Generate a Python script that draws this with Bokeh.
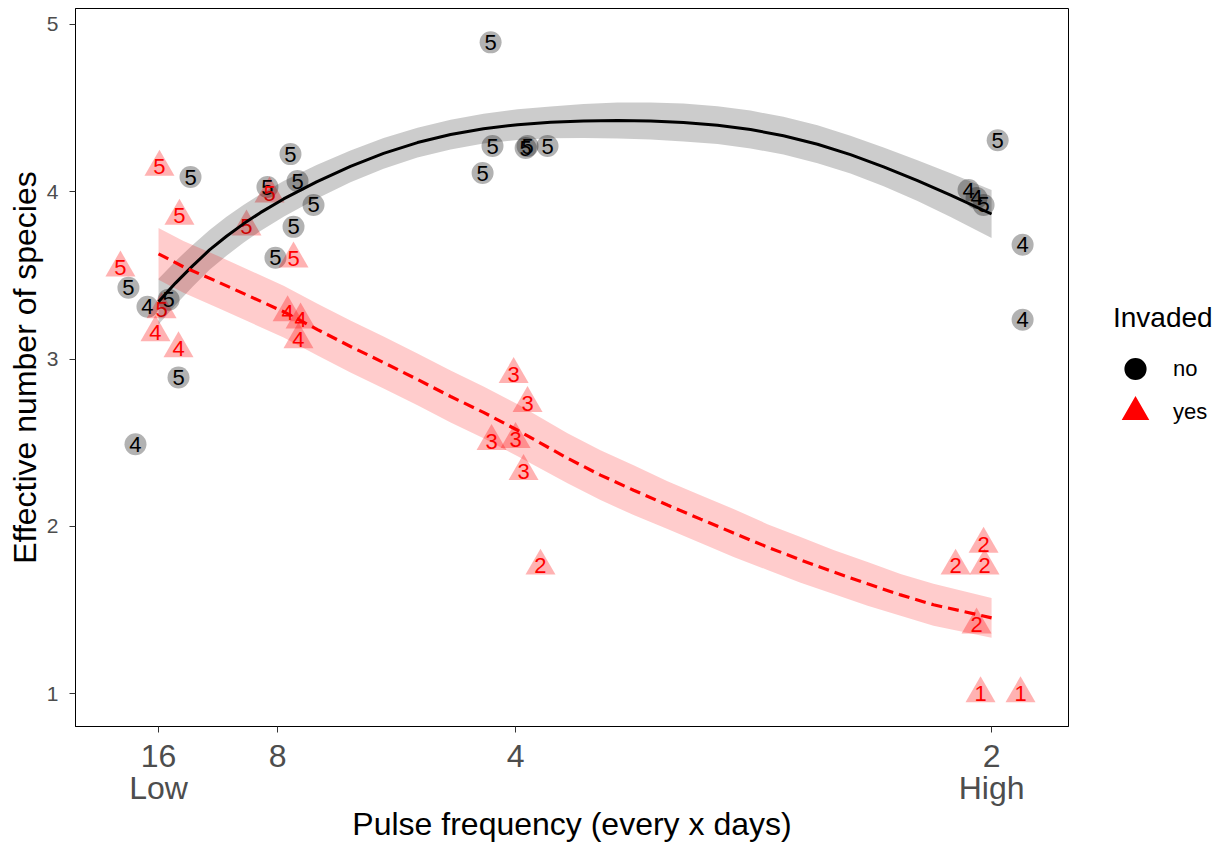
from bokeh.plotting import figure
from bokeh.layouts import row
from bokeh.models import (ColumnDataSource, FixedTicker, LinearAxis, Range1d,
                          Legend, LegendItem)
from bokeh.embed import file_html
from bokeh.resources import INLINE
from bokeh.core.properties import value

FONT = value("Liberation Sans")

# ---- data: not invaded (circles) ----
no_freq = [0.2369, 0.2379, 0.2327, 0.2553, 0.2563, 0.2668, 0.0793, 0.1318,
           0.1197, 0.1355, 0.1439, 0.1334, 0.1239, 0.0467, 0.0567, 0.0678,
           0.0730, 0.0504, 0.4879, 0.4921, 0.4958, 0.5032, 0.5163, 0.5163]
no_eff = [4.893, 4.273, 4.112, 4.261, 4.273, 4.273, 4.088, 4.225,
          4.028, 4.064, 3.921, 3.790, 3.605, 3.426, 3.313, 3.355,
          2.890, 2.490, 4.010, 3.963, 3.921, 4.308, 3.683, 3.235]
no_lab = ["5", "5", "5", "5", "5", "5", "5", "5",
          "5", "5", "5", "5", "5", "5", "4", "5",
          "5", "4", "4", "4", "5", "5", "4", "4"]

# ---- data: invaded (triangles) ----
yes_freq = [0.0630, 0.0735, 0.0425, 0.1087, 0.1208, 0.1334, 0.0641, 0.0609,
            0.0730, 0.1303, 0.1371, 0.1360, 0.2490, 0.2563, 0.2374, 0.2500,
            0.2542, 0.2631, 0.4958, 0.4811, 0.4963, 0.4921, 0.4942, 0.5152]
yes_eff = [4.148, 3.855, 3.545, 3.790, 3.987, 3.599, 3.295, 3.158,
           3.063, 3.277, 3.235, 3.116, 2.908, 2.735, 2.508, 2.520,
           2.329, 1.763, 1.894, 1.763, 1.763, 1.411, 1.000, 1.000]
yes_lab = ["5", "5", "5", "5", "5", "5", "5", "4",
           "4", "4", "4", "4", "3", "3", "3", "3",
           "3", "2", "2", "2", "2", "2", "1", "1"]

# ---- fitted curves with confidence bands ----
fit_no_x = [0.0625, 0.0714, 0.0804, 0.0893, 0.0982, 0.1071, 0.1160, 0.1282,
            0.1455, 0.1633, 0.1807, 0.1985, 0.2159, 0.2332, 0.2511, 0.2684,
            0.2857, 0.3036, 0.3209, 0.3382, 0.3561, 0.3734, 0.3907, 0.4086,
            0.4259, 0.4433, 0.4611, 0.4785, 0.5000]
fit_no_y = [3.343, 3.454, 3.557, 3.652, 3.734, 3.808, 3.875, 3.957,
            4.059, 4.152, 4.229, 4.294, 4.342, 4.377, 4.401, 4.415,
            4.423, 4.426, 4.423, 4.414, 4.398, 4.372, 4.335, 4.284,
            4.222, 4.149, 4.066, 3.980, 3.867]
fit_no_lo = [3.206, 3.323, 3.432, 3.533, 3.618, 3.695, 3.765, 3.850,
             3.958, 4.057, 4.137, 4.205, 4.253, 4.288, 4.309, 4.320,
             4.322, 4.319, 4.313, 4.301, 4.285, 4.259, 4.222, 4.171,
             4.109, 4.033, 3.944, 3.849, 3.724]
fit_no_hi = [3.480, 3.585, 3.682, 3.771, 3.850, 3.921, 3.985, 4.064,
             4.160, 4.247, 4.321, 4.383, 4.431, 4.466, 4.493, 4.510,
             4.524, 4.533, 4.533, 4.527, 4.511, 4.485, 4.448, 4.397,
             4.335, 4.265, 4.188, 4.111, 4.010]

fit_yes_x = [0.0625, 0.0756, 0.0935, 0.1108, 0.1282, 0.1460, 0.1633, 0.1807,
             0.1985, 0.2159, 0.2332, 0.2511, 0.2773, 0.2946, 0.3120, 0.3298,
             0.3472, 0.3645, 0.3823, 0.3997, 0.4170, 0.4349, 0.4522, 0.4695,
             0.5000]
fit_yes_y = [3.629, 3.551, 3.462, 3.373, 3.283, 3.176, 3.075, 2.979,
             2.878, 2.776, 2.681, 2.574, 2.407, 2.306, 2.216, 2.127,
             2.043, 1.960, 1.876, 1.799, 1.727, 1.656, 1.590, 1.531,
             1.453]
fit_yes_lo = [3.474, 3.396, 3.307, 3.218, 3.128, 3.021, 2.920, 2.824,
              2.723, 2.621, 2.526, 2.419, 2.258, 2.157, 2.067, 1.984,
              1.900, 1.817, 1.739, 1.662, 1.596, 1.525, 1.465, 1.406,
              1.334]
fit_yes_hi = [3.784, 3.706, 3.617, 3.528, 3.438, 3.331, 3.230, 3.134,
              3.033, 2.931, 2.836, 2.729, 2.556, 2.455, 2.365, 2.270,
              2.186, 2.103, 2.013, 1.936, 1.858, 1.787, 1.715, 1.656,
              1.572]

# ---- ticks / legend entries ----
x_tick_vals = [1 / 16, 1 / 8, 1 / 4, 1 / 2]
x_tick_labels = ["16", "8", "4", "2"]
x_end_vals = [1 / 16, 1 / 2]
x_end_labels = ["Low", "High"]
y_tick_vals = [1, 2, 3, 4, 5]
legend_title = "Invaded"
legend_labels = ["no", "yes"]

p = figure(width=1069, height=844, output_backend="svg", toolbar_location=None,
           x_range=Range1d(0.0189, 0.5404), y_range=Range1d(0.8033, 5.0954),
           min_border_left=75, min_border_right=1, min_border_top=8,
           min_border_bottom=116)
p.background_fill_color = "white"
p.border_fill_color = "white"
p.outline_line_color = "black"
p.outline_line_width = 1
p.grid.visible = False

# points
src_no = ColumnDataSource(dict(x=no_freq, y=no_eff, t=no_lab))
src_yes = ColumnDataSource(dict(x=yes_freq, y=yes_eff, t=yes_lab))
p.scatter("x", "y", source=src_no, marker="circle", size=22,
          fill_color="black", fill_alpha=0.3, line_color=None)
p.scatter("x", "y", source=src_yes, marker="triangle", size=30,
          fill_color="red", fill_alpha=0.3, line_color=None)
p.text("x", "y", text="t", source=src_no, text_align="center",
       text_baseline="middle", text_font_size="22px", text_color="black",
       text_font=FONT)
p.text("x", "y", text="t", source=src_yes, text_align="center",
       text_baseline="middle", text_font_size="22px", text_color="red",
       text_font=FONT)

# smooth bands and lines
p.varea(x=fit_no_x, y1=fit_no_lo, y2=fit_no_hi, fill_color="black", fill_alpha=0.2)
p.varea(x=fit_yes_x, y1=fit_yes_lo, y2=fit_yes_hi, fill_color="red", fill_alpha=0.2)
p.line(fit_no_x, fit_no_y, line_color="black", line_width=3)
p.line(fit_yes_x, fit_yes_y, line_color="red", line_width=3.2, line_dash="11 6")

# axes
xa = p.xaxis[0]
xa.ticker = FixedTicker(ticks=x_tick_vals)
xa.major_label_overrides = dict(zip(x_tick_vals, x_tick_labels))
xa.minor_tick_line_color = None
xa.major_tick_in = 0
xa.major_tick_out = 6
xa.major_tick_line_color = "#333333"
xa.axis_line_color = "black"
xa.major_label_standoff = 12
xa.major_label_text_font_size = "32px"
xa.major_label_text_color = "#4d4d4d"
xa.major_label_text_font = "Liberation Sans"

xa2 = LinearAxis(ticker=FixedTicker(ticks=x_end_vals),
                 major_label_overrides=dict(zip(x_end_vals, x_end_labels)),
                 axis_label="Pulse frequency (every x days)")
xa2.axis_line_color = None
xa2.major_tick_line_color = None
xa2.minor_tick_line_color = None
xa2.major_tick_in = 0
xa2.major_tick_out = 0
xa2.major_label_standoff = 0
xa2.major_label_text_font_size = "32px"
xa2.major_label_text_color = "#4d4d4d"
xa2.major_label_text_font = "Liberation Sans"
xa2.axis_label_text_font_size = "32px"
xa2.axis_label_text_font_style = "normal"
xa2.axis_label_text_color = "black"
xa2.axis_label_text_font = "Liberation Sans"
xa2.axis_label_standoff = -3
p.add_layout(xa2, "below")

ya = p.yaxis[0]
ya.ticker = FixedTicker(ticks=y_tick_vals)
ya.minor_tick_line_color = None
ya.major_tick_in = 0
ya.major_tick_out = 6
ya.major_tick_line_color = "#333333"
ya.axis_line_color = "black"
ya.major_label_standoff = 11
ya.major_label_text_font_size = "21px"
ya.major_label_text_color = "#4d4d4d"
ya.major_label_text_font = "Liberation Sans"
ya.axis_label = "Effective number of species"
ya.axis_label_text_font_size = "32px"
ya.axis_label_text_font_style = "normal"
ya.axis_label_text_color = "black"
ya.axis_label_text_font = "Liberation Sans"
ya.axis_label_standoff = 1

# ---- legend panel (separate small figure to the right) ----
lf = figure(width=149, height=844, output_backend="svg", toolbar_location=None,
            x_range=p.x_range, y_range=p.y_range,
            x_axis_location=None, y_axis_location=None, min_border=0)
lf.outline_line_color = None
lf.grid.visible = False
lf.background_fill_color = "white"
lf.border_fill_color = "white"
# hidden renderers only provide the legend keys (thick outline = bigger key)
leg_no = lf.scatter(no_freq, no_eff, marker="circle", fill_color="black",
                    line_color="black", line_width=5, visible=False)
leg_yes = lf.scatter(yes_freq, yes_eff, marker="triangle", fill_color="red",
                     line_color="red", line_width=6, line_join="miter",
                     visible=False)
legend = Legend(items=[LegendItem(label=legend_labels[0], renderers=[leg_no]),
                       LegendItem(label=legend_labels[1], renderers=[leg_yes])],
                location=(44, 293), title=legend_title,
                title_text_font_size="28px", title_text_font="Liberation Sans",
                title_text_font_style="normal", title_text_color="black",
                title_standoff=13,
                label_text_font_size="22px", label_text_font="Liberation Sans",
                label_text_color="black",
                glyph_width=44, glyph_height=43, spacing=0, label_standoff=16,
                padding=0, margin=0, border_line_color=None,
                background_fill_alpha=0, inactive_fill_alpha=0)
lf.add_layout(legend, "center")

layout = row(p, lf)
open("out.html", "w").write(file_html(layout, INLINE))
